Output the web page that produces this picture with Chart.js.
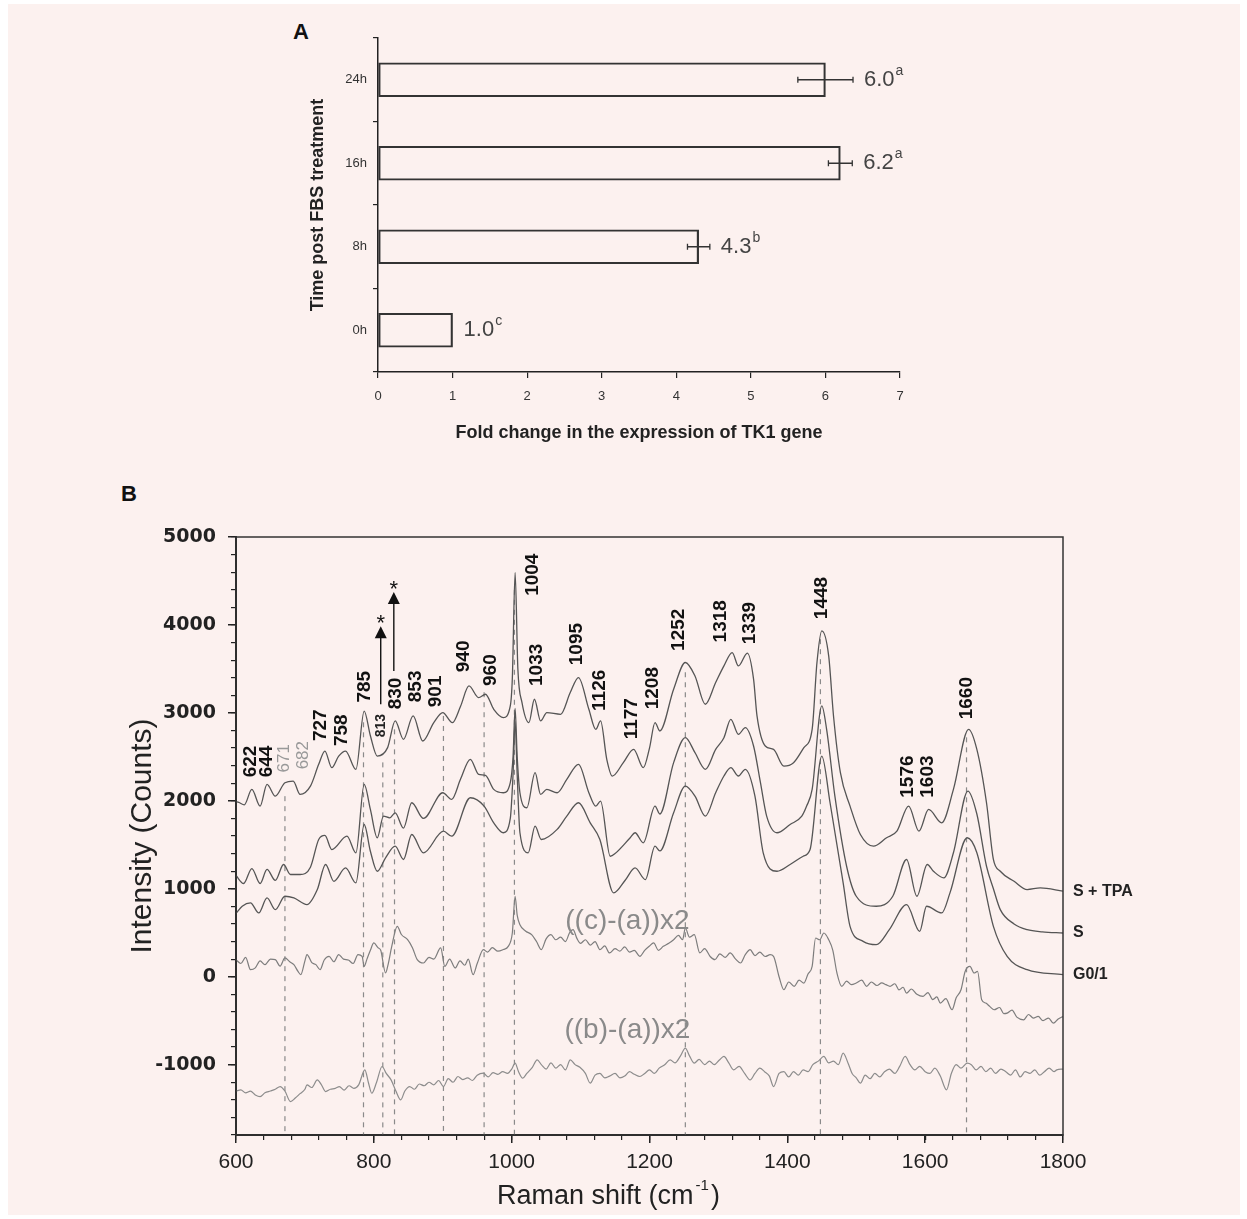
<!DOCTYPE html>
<html lang="en">
<head>
<meta charset="UTF-8">
<title>TK1 expression and Raman spectra</title>
<style>
  body { margin: 0; background: #ffffff; font-family: 'Liberation Sans', Arial, sans-serif; }
  .panel-bg { position: absolute; left: 8px; top: 4px; width: 1232px; height: 1211px; background: #fcf1ef; }
  .panel-letter { position: absolute; font-weight: bold; font-size: 22px; color: #111; }
  canvas { position: absolute; }
  #chartA { left: 240px; top: 20px; }
  #chartB { left: 100px; top: 500px; }
</style>
<script src="https://cdn.jsdelivr.net/npm/chart.js"></script>
</head>
<body>
<div class="panel-bg"></div>
<div class="panel-letter" style="left:293px; top:19px;">A</div>
<div class="panel-letter" style="left:121px; top:481px;">B</div>
<canvas id="chartA" width="720" height="440"></canvas>
<canvas id="chartB" width="1140" height="715"></canvas>
<script>
// ---- Panel A: TK1 fold change ----
const timePoints = ['24h', '16h', '8h', '0h'];
const foldChange = [6.0, 6.2, 4.3, 1.0];
const foldError = [0.37, 0.16, 0.15, 0];
const groupLetters = ['a', 'a', 'b', 'c'];

// ---- Panel B: Raman spectra, [shift (cm-1), counts] ----
const spectrumTPA = [
  [600,1990],[604,1982],[612,1955],[623,2130],[635,1940],[645,2187],[657,2053],[671,2206],[683,2225],[693,2073],
  [708,2167],[720,2415],[729,2566],[739,2377],[749,2509],[759,2566],[774,2358],[786,3021],[795,2740],[805,2509],
  [820,2605],[831,2908],[843,2699],[857,2965],[871,2680],[887,2889],[900,3003],[914,2889],[926,3079],[938,3306],
  [952,3174],[962,3212],[974,3041],[988,2946],[998,3079],[1001,3400],[1005,4598],[1009,3500],[1015,3117],[1025,2889],
  [1033,3155],[1042,2908],[1051,3003],[1071,2984],[1085,3231],[1097,3402],[1112,3041],[1122,2813],[1129,2908],[1138,2472],
  [1146,2281],[1162,2434],[1177,2585],[1191,2377],[1200,2600],[1208,2889],[1215,2794],[1235,3269],[1252,3573],[1266,3420],
  [1281,3098],[1296,3345],[1308,3534],[1320,3686],[1329,3534],[1342,3679],[1351,3383],[1356,2965],[1368,2623],[1380,2585],
  [1395,2395],[1409,2434],[1424,2605],[1436,2813],[1443,3573],[1450,3933],[1460,3648],[1467,2965],[1477,2320],[1491,1940],
  [1506,1617],[1525,1484],[1544,1580],[1559,1655],[1576,1940],[1591,1655],[1605,1902],[1624,1750],[1641,2130],[1663,2813],
  [1675,2585],[1689,1978],[1699,1333],[1709,1199],[1729,1085],[1748,991],[1767,1010],[1800,972]
];
const spectrumS = [
  [600,1150],[611,1060],[623,1230],[635,1060],[645,1220],[657,1095],[669,1276],[679,1162],[693,1162],[708,1245],
  [720,1560],[729,1606],[739,1446],[761,1598],[774,1409],[786,2187],[795,1902],[805,1580],[814,1826],[823,1807],
  [831,1864],[843,1690],[855,1978],[872,1800],[900,2092],[913,2016],[926,2250],[940,2472],[952,2301],[962,2290],
  [974,2130],[988,2092],[998,2206],[1002,2500],[1005,3050],[1008,2500],[1012,2092],[1022,1921],[1034,2320],[1042,2073],
  [1051,2130],[1066,2092],[1080,2244],[1097,2415],[1112,2092],[1122,1940],[1129,1997],[1143,1370],[1150,1400],[1172,1580],
  [1179,1637],[1191,1522],[1208,1940],[1215,1850],[1235,2434],[1252,2718],[1266,2548],[1281,2358],[1296,2585],[1308,2718],
  [1318,2927],[1329,2756],[1339,2832],[1351,2623],[1361,2206],[1370,1826],[1385,1637],[1404,1731],[1421,1826],[1428,1940],
  [1436,2130],[1450,3079],[1457,2813],[1469,2053],[1486,1256],[1500,915],[1529,801],[1553,915],[1573,1333],[1588,915],
  [1603,1276],[1612,1199],[1627,1124],[1641,1409],[1662,2111],[1675,1850],[1689,1256],[1699,1000],[1709,763],[1729,600],
  [1748,535],[1770,510],[1800,497]
];
const spectrumG01 = [
  [600,720],[609,801],[621,839],[633,725],[645,896],[657,763],[671,915],[684,896],[703,820],[718,991],
  [730,1276],[742,1085],[759,1237],[774,1067],[786,1731],[795,1427],[805,1199],[817,1352],[831,1484],[843,1333],
  [855,1617],[872,1409],[901,1655],[913,1598],[940,2035],[960,1940],[974,1750],[988,1637],[998,1800],[1002,2300],
  [1005,2900],[1008,2300],[1012,1637],[1024,1409],[1034,1712],[1043,1560],[1066,1675],[1080,1826],[1097,1978],[1114,1750],
  [1128,1560],[1148,953],[1165,1100],[1179,1237],[1194,1105],[1208,1484],[1215,1430],[1235,1864],[1252,2168],[1266,2053],
  [1281,1826],[1296,2092],[1308,2282],[1318,2377],[1329,2282],[1339,2358],[1353,2053],[1365,1409],[1385,1199],[1404,1276],
  [1423,1370],[1433,1446],[1450,2509],[1462,1978],[1481,1067],[1491,573],[1510,402],[1529,364],[1548,535],[1573,820],
  [1592,516],[1602,801],[1624,725],[1636,953],[1661,1580],[1675,1409],[1699,573],[1719,231],[1748,80],[1800,23]
];
const diffCA = [
  [600,194],[607,150],[614,220],[621,80],[628,100],[635,180],[642,137],[650,200],[657,194],[664,120],
  [671,213],[678,170],[684,137],[690,60],[694,23],[700,180],[703,251],[710,160],[716,137],[722,80],
  [728,190],[735,232],[742,170],[749,251],[756,200],[763,190],[770,150],[777,251],[783,230],[786,117],
  [790,200],[795,300],[800,384],[806,330],[810,300],[817,42],[821,150],[826,345],[834,573],[840,480],
  [849,421],[856,330],[863,194],[872,156],[880,220],[887,200],[897,327],[903,117],[910,200],[918,100],
  [925,180],[932,130],[937,200],[944,23],[950,150],[959,308],[965,280],[972,330],[980,290],[988,310],
  [995,345],[1001,500],[1005,915],[1008,700],[1012,592],[1020,520],[1029,478],[1036,400],[1043,308],[1050,430],
  [1057,478],[1064,420],[1071,450],[1078,400],[1084,500],[1089,535],[1095,430],[1100,380],[1107,420],[1114,360],
  [1121,400],[1128,308],[1135,350],[1142,270],[1150,320],[1157,290],[1164,340],[1171,280],[1178,300],[1186,231],
  [1193,300],[1200,350],[1206,384],[1213,300],[1220,345],[1228,380],[1235,421],[1242,470],[1248,420],[1252,554],
  [1258,450],[1265,478],[1273,270],[1280,320],[1288,230],[1295,194],[1302,260],[1310,220],[1317,270],[1325,200],
  [1332,156],[1339,250],[1346,308],[1353,240],[1360,280],[1368,230],[1375,250],[1380,231],[1388,0],[1395,-148],
  [1402,-60],[1410,-110],[1417,-40],[1424,-72],[1430,30],[1436,117],[1441,440],[1447,420],[1453,497],[1460,421],
  [1466,300],[1472,42],[1479,-110],[1486,-50],[1493,-90],[1500,-72],[1508,-40],[1515,-110],[1522,-60],[1530,-100],
  [1537,-70],[1543,-90],[1549,-110],[1556,-80],[1562,-150],[1568,-120],[1573,-186],[1580,-140],[1588,-200],[1597,-224],
  [1604,-180],[1611,-260],[1617,-230],[1622,-300],[1630,-250],[1639,-376],[1645,-240],[1652,-148],[1658,60],[1665,117],
  [1671,42],[1676,60],[1682,-262],[1688,-300],[1694,-340],[1700,-376],[1708,-350],[1714,-420],[1719,-414],[1726,-380],
  [1733,-460],[1743,-490],[1750,-430],[1757,-470],[1764,-452],[1771,-500],[1779,-470],[1786,-528],[1793,-480],[1800,-452]
];
const diffBA = [
  [600,-1300],[607,-1287],[614,-1320],[621,-1300],[628,-1344],[635,-1363],[642,-1320],[650,-1300],[657,-1280],[664,-1249],
  [671,-1300],[679,-1420],[686,-1380],[693,-1330],[700,-1280],[703,-1230],[710,-1260],[718,-1173],[724,-1230],[730,-1306],
  [737,-1280],[744,-1270],[750,-1250],[757,-1290],[764,-1240],[771,-1270],[778,-1230],[787,-1059],[792,-1200],[797,-1325],
  [804,-1200],[812,-1021],[818,-1100],[825,-1173],[832,-1300],[839,-1401],[845,-1300],[852,-1249],[859,-1280],[866,-1220],
  [873,-1240],[880,-1200],[887,-1230],[894,-1180],[901,-1249],[908,-1160],[915,-1200],[922,-1135],[929,-1170],[936,-1150],
  [943,-1180],[950,-1120],[959,-1097],[966,-1140],[973,-1090],[980,-1110],[987,-1080],[994,-1100],[1000,-1050],[1005,-983],
  [1010,-1080],[1016,-1154],[1022,-1100],[1030,-1030],[1037,-945],[1043,-1000],[1050,-1050],[1057,-980],[1064,-1040],[1071,-1000],
  [1078,-1060],[1085,-945],[1092,-1000],[1099,-1030],[1107,-1100],[1114,-1211],[1121,-1120],[1128,-1100],[1135,-1150],[1142,-1130],
  [1150,-1100],[1157,-1150],[1164,-1130],[1171,-1080],[1178,-1110],[1186,-1135],[1193,-1100],[1200,-1060],[1207,-1100],[1214,-1040],
  [1222,-1000],[1230,-945],[1237,-980],[1245,-900],[1252,-812],[1258,-900],[1265,-983],[1272,-940],[1280,-1000],[1287,-960],
  [1294,-1000],[1301,-950],[1308,-907],[1315,-980],[1322,-1059],[1330,-1020],[1338,-1100],[1346,-1173],[1353,-1100],[1360,-1040],
  [1367,-1080],[1374,-1130],[1380,-1249],[1388,-1100],[1395,-1080],[1402,-1140],[1409,-1080],[1416,-1120],[1423,-1060],[1430,-1080],
  [1437,-1000],[1445,-960],[1453,-907],[1460,-980],[1467,-960],[1474,-1000],[1481,-869],[1488,-980],[1494,-1100],[1500,-1150],
  [1506,-1211],[1513,-1120],[1520,-1160],[1527,-1100],[1534,-1140],[1541,-1080],[1548,-1050],[1556,-1100],[1563,-1020],[1571,-907],
  [1578,-1000],[1585,-1060],[1592,-1020],[1600,-1080],[1607,-1100],[1614,-1040],[1622,-1130],[1631,-1287],[1638,-1100],[1645,-1000],
  [1652,-1040],[1661,-983],[1667,-1000],[1674,-1060],[1681,-1020],[1688,-1080],[1695,-1040],[1702,-1100],[1710,-1050],[1717,-1080],
  [1724,-1120],[1731,-1060],[1738,-1140],[1745,-1080],[1752,-1100],[1759,-1060],[1766,-1120],[1773,-1080],[1780,-1040],[1787,-1080],
  [1791,-1059],[1800,-1050]
];
const seriesNames = ['S + TPA', 'S', 'G0/1'];
const differenceNames = ['((c)-(a))x2', '((b)-(a))x2'];
const differenceLabelAt = [[1168, 626], [1168, -604]];

// assigned bands: label text, anchor shift, counts at the foot of the label
const peakLabels = ['622','644','671','682','727','758','785','813','830','853','901','940','960',
  '1004','1033','1095','1126','1177','1208','1252','1318','1339','1448','1576','1603','1660'];
const peakLabelShift = [621,645,670,697,723,753,787,810,832,861,890,931,969,
  1030,1036,1094,1128,1174,1205,1242,1304,1346,1450,1575,1604,1660];
const peakLabelCounts = [2267,2267,2323,2358,2680,2623,3117,2722,3041,3121,3064,3462,3306,
  4331,3306,3542,3022,2699,3041,3705,3801,3781,4066,2035,2035,2927];

// dashed guide lines from the top trace down to the axis
const markerShifts = [671, 785, 813, 830, 901, 960, 1004, 1252, 1448, 1660];
const markerTops = [2053, 2893, 2437, 2813, 2965, 3235, 4400, 3462, 3838, 2722];

// arrows marking the two starred bands
const arrowShifts = [810, 829];
const arrowFrom = [3098, 3477];
const arrowTo = [3986, 4374];

const xRange = [600, 1800];
const yRange = [-1800, 5000];
const countTicks = [-1000, 0, 1000, 2000, 3000, 4000, 5000];

Chart.defaults.font.family = "'Liberation Sans', Arial, sans-serif";
Chart.defaults.color = '#222';
Chart.defaults.animation = false;

const FONT = "'Liberation Sans', Arial, sans-serif";

// error bars and value labels for panel A
const foldAnnotations = {
  id: 'foldAnnotations',
  afterDatasetsDraw(chart) {
    const { ctx, scales: { x, y } } = chart;
    ctx.save();
    foldChange.forEach((v, i) => {
      const cy = y.getPixelForValue(i);
      const err = foldError[i];
      const xHi = x.getPixelForValue(v + err);
      if (err > 0) {
        const xLo = x.getPixelForValue(v - err);
        ctx.strokeStyle = '#333';
        ctx.lineWidth = 1.3;
        ctx.beginPath();
        ctx.moveTo(xLo, cy); ctx.lineTo(xHi, cy);
        ctx.moveTo(xLo, cy - 3); ctx.lineTo(xLo, cy + 3);
        ctx.moveTo(xHi, cy - 3); ctx.lineTo(xHi, cy + 3);
        ctx.stroke();
      }
      const text = v.toFixed(1);
      const lx = xHi + 11;
      ctx.fillStyle = '#444';
      ctx.textAlign = 'left';
      ctx.textBaseline = 'middle';
      ctx.font = '22px ' + FONT;
      ctx.fillText(text, lx, cy);
      const w = ctx.measureText(text).width;
      ctx.font = '14px ' + FONT;
      ctx.fillText(groupLetters[i], lx + w + 1, cy - 9);
    });
    ctx.restore();
  }
};

new Chart(document.getElementById('chartA'), {
  type: 'bar',
  data: {
    labels: timePoints,
    datasets: [{
      data: foldChange,
      backgroundColor: 'rgba(0,0,0,0)',
      borderColor: '#333',
      borderWidth: 1.5,
      borderSkipped: false,
      barThickness: 34
    }]
  },
  options: {
    indexAxis: 'y',
    responsive: false,
    layout: { padding: { top: 18, right: 60, left: 0, bottom: 0 } },
    plugins: { legend: { display: false }, tooltip: { enabled: false } },
    scales: {
      x: {
        min: 0,
        max: 7,
        ticks: { stepSize: 1, font: { size: 13 }, color: '#333', padding: 11 },
        grid: { drawOnChartArea: false, tickLength: 6, color: '#222', lineWidth: 1.2 },
        border: { color: '#222', width: 1.5 },
        title: {
          display: true,
          text: 'Fold change in the expression of TK1 gene',
          font: { size: 18, weight: 'bold' },
          color: '#222',
          padding: { top: 0, bottom: 16 }
        },
        afterFit: (s) => { s.height = 88; }
      },
      y: {
        ticks: { font: { size: 13 }, color: '#333', padding: 6 },
        grid: { drawOnChartArea: false, offset: true, tickLength: 5, color: '#222', lineWidth: 1.2 },
        border: { color: '#222', width: 1.5 },
        title: {
          display: true,
          text: 'Time post FBS treatment',
          font: { size: 18, weight: 'bold' },
          color: '#222',
          padding: { top: 67, bottom: 0 }
        },
        afterFit: (s) => { s.width = 138; }
      }
    }
  },
  plugins: [foldAnnotations]
});

// peak labels, arrows, trace names and the frame for panel B
const spectraAnnotations = {
  id: 'spectraAnnotations',
  afterDatasetsDraw(chart) {
    const { ctx, chartArea, scales: { x, y } } = chart;
    ctx.save();

    peakLabels.forEach((label, i) => {
      const px = x.getPixelForValue(peakLabelShift[i]);
      const py = y.getPixelForValue(peakLabelCounts[i]);
      if (label === '671' || label === '682') {
        ctx.font = '17px ' + FONT;
        ctx.fillStyle = '#999';
      } else if (label === '813') {
        ctx.font = 'bold 14px ' + FONT;
        ctx.fillStyle = '#222';
      } else {
        ctx.font = 'bold 19px ' + FONT;
        ctx.fillStyle = '#111';
      }
      ctx.save();
      ctx.translate(px, py);
      ctx.rotate(-Math.PI / 2);
      ctx.textAlign = 'left';
      ctx.textBaseline = 'middle';
      ctx.fillText(label, 0, 0);
      ctx.restore();
    });

    ctx.strokeStyle = '#111';
    ctx.fillStyle = '#111';
    ctx.lineWidth = 1.4;
    arrowShifts.forEach((s, i) => {
      const px = x.getPixelForValue(s);
      const y0 = y.getPixelForValue(arrowFrom[i]);
      const y1 = y.getPixelForValue(arrowTo[i]);
      ctx.beginPath();
      ctx.moveTo(px, y0);
      ctx.lineTo(px, y1 + 10);
      ctx.stroke();
      ctx.beginPath();
      ctx.moveTo(px, y1);
      ctx.lineTo(px - 6, y1 + 12);
      ctx.lineTo(px + 6, y1 + 12);
      ctx.closePath();
      ctx.fill();
      ctx.font = '22px ' + FONT;
      ctx.textAlign = 'center';
      ctx.textBaseline = 'alphabetic';
      ctx.fillText('*', px, y1 + 4);
    });

    // difference trace captions
    ctx.fillStyle = '#8a8a8a';
    ctx.font = '28px ' + FONT;
    ctx.textAlign = 'center';
    ctx.textBaseline = 'middle';
    differenceNames.forEach((name, i) => {
      const [sx, sy] = differenceLabelAt[i];
      ctx.fillText(name, x.getPixelForValue(sx), y.getPixelForValue(sy));
    });

    // trace names at the right-hand end of each spectrum
    ctx.fillStyle = '#222';
    ctx.font = 'bold 16px ' + FONT;
    ctx.textAlign = 'left';
    [spectrumTPA, spectrumS, spectrumG01].forEach((series, i) => {
      const last = series[series.length - 1];
      ctx.fillText(seriesNames[i], chartArea.right + 10, y.getPixelForValue(last[1]));
    });
    ctx.restore();
  },
  afterDraw(chart) {
    const { ctx, chartArea } = chart;
    ctx.save();
    ctx.strokeStyle = '#333';
    ctx.lineWidth = 1.5;
    ctx.strokeRect(chartArea.left, chartArea.top, chartArea.right - chartArea.left, chartArea.bottom - chartArea.top);

    // x-axis title with a raised exponent
    const cx = chartArea.left + 261;
    const cy = chartArea.bottom + 62;
    ctx.fillStyle = '#222';
    ctx.textBaseline = 'middle';
    ctx.textAlign = 'left';
    ctx.font = '27px ' + FONT;
    const base = 'Raman shift (cm';
    ctx.fillText(base, cx, cy);
    let w = ctx.measureText(base).width;
    ctx.font = '15px ' + FONT;
    ctx.fillText('-1', cx + w + 2, cy - 11);
    w += ctx.measureText('-1').width + 4;
    ctx.font = '27px ' + FONT;
    ctx.fillText(')', cx + w, cy);
    ctx.restore();
  }
};

const toPoints = (pairs) => pairs.map(([sx, sy]) => ({ x: sx, y: sy }));

const traceStyle = (color, width) => ({
  borderColor: color,
  borderWidth: width,
  pointRadius: 0,
  fill: false,
  cubicInterpolationMode: 'monotone',
  order: 1
});

const markerSets = markerShifts.map((s, i) => ({
  data: [{ x: s, y: markerTops[i] }, { x: s, y: yRange[0] }],
  borderColor: '#8a8a8a',
  borderWidth: 1.2,
  borderDash: [5, 5],
  pointRadius: 0,
  fill: false,
  order: 5
}));

new Chart(document.getElementById('chartB'), {
  type: 'line',
  data: {
    datasets: [
      { label: seriesNames[0], data: toPoints(spectrumTPA), ...traceStyle('#555', 1.3) },
      { label: seriesNames[1], data: toPoints(spectrumS), ...traceStyle('#555', 1.3) },
      { label: seriesNames[2], data: toPoints(spectrumG01), ...traceStyle('#555', 1.3) },
      { label: differenceNames[0], data: toPoints(diffCA), ...traceStyle('#7d7d7d', 1.2) },
      { label: differenceNames[1], data: toPoints(diffBA), ...traceStyle('#8c8c8c', 1.2) },
      ...markerSets
    ]
  },
  options: {
    responsive: false,
    layout: { padding: { top: 37, right: 177, left: 0, bottom: 0 } },
    plugins: { legend: { display: false }, tooltip: { enabled: false } },
    scales: {
      x: {
        type: 'linear',
        position: 'bottom',
        weight: 1,
        min: xRange[0],
        max: xRange[1],
        ticks: { stepSize: 200, font: { size: 21 }, color: '#222', padding: 7, callback: (v) => String(v) },
        grid: { drawOnChartArea: false, tickLength: 8, color: '#222', lineWidth: 1.5 },
        border: { color: '#222', width: 2 },
        afterFit: (s) => { s.height = 80; }
      },
      xMinor: {
        type: 'linear',
        position: 'bottom',
        weight: 0,
        min: xRange[0],
        max: xRange[1],
        ticks: { display: false, stepSize: 40 },
        grid: { drawOnChartArea: false, tickLength: 5, color: '#222', lineWidth: 1.2 },
        border: { display: false },
        afterFit: (s) => { s.height = 0; }
      },
      y: {
        type: 'linear',
        position: 'left',
        weight: 1,
        min: yRange[0],
        max: yRange[1],
        afterBuildTicks: (s) => { s.ticks = countTicks.map((v) => ({ value: v })); },
        ticks: {
          font: { family: "'DejaVu Sans', Verdana, sans-serif", size: 19, weight: 'bold' },
          color: '#222',
          padding: 12,
          callback: (v) => String(v)
        },
        grid: { drawOnChartArea: false, tickLength: 8, color: '#222', lineWidth: 1.5 },
        border: { color: '#222', width: 2 },
        title: {
          display: true,
          text: 'Intensity (Counts)',
          font: { size: 30 },
          color: '#222',
          padding: { top: 25, bottom: 0 }
        },
        afterFit: (s) => { s.width = 136; }
      },
      yMinor: {
        type: 'linear',
        position: 'left',
        weight: 0,
        min: yRange[0],
        max: yRange[1],
        ticks: { display: false, stepSize: 200 },
        grid: { drawOnChartArea: false, tickLength: 5, color: '#222', lineWidth: 1.2 },
        border: { display: false },
        afterFit: (s) => { s.width = 0; }
      }
    }
  },
  plugins: [spectraAnnotations]
});
</script>
</body>
</html>
